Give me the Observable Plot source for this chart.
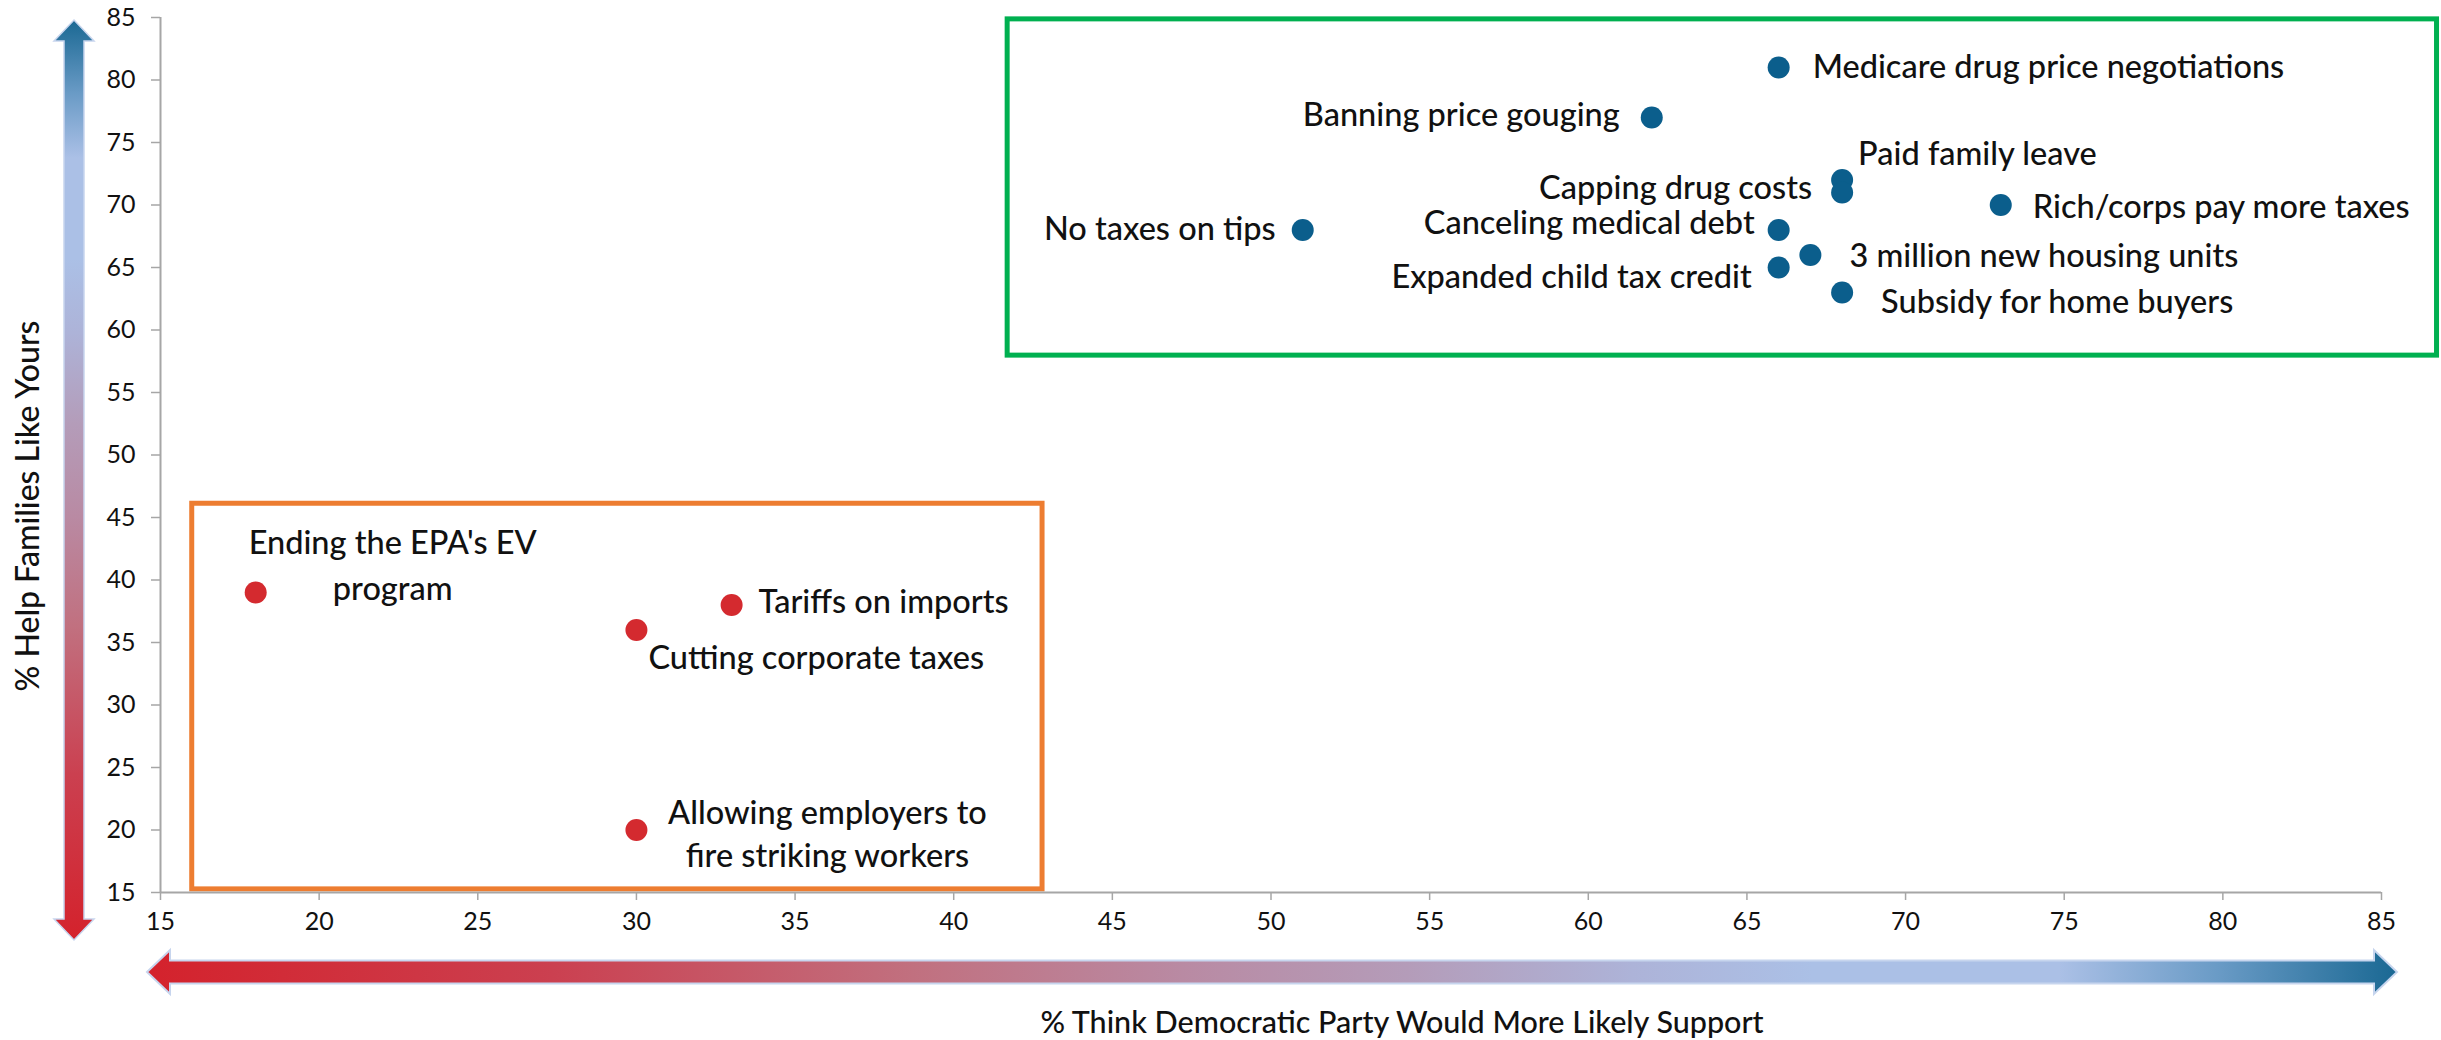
<!DOCTYPE html>
<html>
<head>
<meta charset="utf-8">
<script src="https://cdn.jsdelivr.net/npm/d3@7"></script>
<script src="https://cdn.jsdelivr.net/npm/@observablehq/plot@0.6"></script>
<style>
  html, body { margin: 0; padding: 0; background: #fff; }
  #chart svg { display: block; }
</style>
</head>
<body>
<div id="chart"></div>
<script>
// ---------- DATA ----------
const policies = [
  "Medicare drug price negotiations",
  "Banning price gouging",
  "Paid family leave",
  "Capping drug costs",
  "Rich/corps pay more taxes",
  "No taxes on tips",
  "Canceling medical debt",
  "3 million new housing units",
  "Expanded child tax credit",
  "Subsidy for home buyers",
  "Ending the EPA's EV\nprogram",
  "Tariffs on imports",
  "Cutting corporate taxes",
  "Allowing employers to\nfire striking workers"
];
const democraticSupport = [66, 62, 68, 68, 73, 51, 66, 67, 66, 68, 18, 33, 30, 30];
const helpFamilies      = [81, 77, 72, 71, 70, 68, 68, 66, 65, 63, 39, 38, 36, 20];
const party = ["Dem","Dem","Dem","Dem","Dem","Dem","Dem","Dem","Dem","Dem","Rep","Rep","Rep","Rep"];

const xTicks = [15, 20, 25, 30, 35, 40, 45, 50, 55, 60, 65, 70, 75, 80, 85];
const yTicks = [15, 20, 25, 30, 35, 40, 45, 50, 55, 60, 65, 70, 75, 80, 85];

const xTitle = "% Think Democratic Party Would More Likely Support";
const yTitle = "% Help Families Like Yours";

// highlight boxes (data units)
const boxNames = ["Dem", "Rep"];
const boxX1 = [41.7, 16.0];
const boxX2 = [86.75, 42.8];
const boxY1 = [57.95, 15.25];
const boxY2 = [84.85, 46.1];

// ---------- LAYOUT / STYLE ----------
const W = 2441, H = 1040;
const mL = 160, mR = 60, mT = 17, mB = 148;
const partyColors = {Dem: "#0b5e8c", Rep: "#d42a2f"};
const boxColors = {Dem: "#00b050", Rep: "#ed7d31"};
const FONT = "Lato, 'Open Sans', sans-serif";

// label placement: [textAnchor, dx, dy, lineHeight(px)]
const labelLayout = {
  "Medicare drug price negotiations": ["start", 34, 0],
  "Banning price gouging": ["end", -32, -2],
  "Paid family leave": ["start", 16, -25],
  "Capping drug costs": ["end", -30, -4],
  "Rich/corps pay more taxes": ["start", 32, 3],
  "No taxes on tips": ["end", -27, 0],
  "Canceling medical debt": ["end", -24, -6],
  "3 million new housing units": ["start", 39, 2],
  "Expanded child tax credit": ["end", -27, 10],
  "Subsidy for home buyers": ["start", 39, 10],
  "Ending the EPA's EV\nprogram": ["middle", 137, -30, 46],
  "Tariffs on imports": ["start", 27, -2],
  "Cutting corporate taxes": ["start", 12, 29],
  "Allowing employers to\nfire striking workers": ["middle", 191, 2, 43]
};
const labelSize = 32.5;

const data = policies.map((name, i) => ({
  name, x: democraticSupport[i], y: helpFamilies[i], party: party[i]
}));
const boxes = boxNames.map((name, i) => ({name, x1: boxX1[i], x2: boxX2[i], y1: boxY1[i], y2: boxY2[i]}));

// gradient stops (red -> blue)
const gradStops = [
  [0, "#d4222c"], [0.18, "#cb4050"], [0.34, "#c1707f"], [0.46, "#b98aa3"],
  [0.56, "#b49cb9"], [0.66, "#adb3d8"], [0.74, "#abc0e6"], [0.85, "#abc0e6"],
  [0.92, "#6a9bc6"], [1, "#1a6893"]
];

function arrowsMark() {
  const g = d3.create("svg:g");
  const defs = g.append("defs");
  const gx = defs.append("linearGradient").attr("id", "gradX")
    .attr("x1", 0).attr("y1", 0).attr("x2", 1).attr("y2", 0);
  const gy = defs.append("linearGradient").attr("id", "gradY")
    .attr("x1", 0).attr("y1", 1).attr("x2", 0).attr("y2", 0);
  for (const [o, c] of gradStops) {
    gx.append("stop").attr("offset", o).attr("stop-color", c);
    gy.append("stop").attr("offset", o).attr("stop-color", c);
  }
  // horizontal arrow
  const xl = mL - 13, xr = W - mR + 16, yc = H - mB + 80;
  const hl = 23, hh = 22, sh = 11.5;
  const px = [
    [xl, yc], [xl + hl, yc - hh], [xl + hl, yc - sh], [xr - hl, yc - sh], [xr - hl, yc - hh],
    [xr, yc], [xr - hl, yc + hh], [xr - hl, yc + sh], [xl + hl, yc + sh], [xl + hl, yc + hh]
  ];
  g.append("path").attr("d", "M" + px.map(p => p.join(",")).join("L") + "Z")
    .attr("fill", "url(#gradX)").attr("stroke", "#c7d5ee").attr("stroke-width", 2);
  // vertical arrow
  const xc = mL - 86, yt = mT + 3, yb = H - mB + 48;
  const vl = 21, vw = 20, sw = 10;
  const py = [
    [xc, yt], [xc + vw, yt + vl], [xc + sw, yt + vl], [xc + sw, yb - vl], [xc + vw, yb - vl],
    [xc, yb], [xc - vw, yb - vl], [xc - sw, yb - vl], [xc - sw, yt + vl], [xc - vw, yt + vl]
  ];
  g.append("path").attr("d", "M" + py.map(p => p.join(",")).join("L") + "Z")
    .attr("fill", "url(#gradY)").attr("stroke", "#c7d5ee").attr("stroke-width", 1.5);
  return g.node();
}

const labelMarks = data.map(d => {
  const [anchor, dx, dy, lh] = labelLayout[d.name];
  return Plot.text([d], {
    x: "x", y: "y", text: "name",
    textAnchor: anchor, dx, dy,
    lineAnchor: "middle",
    lineHeight: lh ? lh / labelSize : 1,
    fontSize: labelSize, fontWeight: 500, fill: "#111"
  });
});

const boxMarks = boxes.map(b => Plot.rect([b], {
  x1: "x1", x2: "x2", y1: "y1", y2: "y2",
  fill: "none", stroke: boxColors[b.name], strokeWidth: 5
}));

const chart = Plot.plot({
  width: W, height: H,
  marginLeft: mL, marginRight: mR, marginTop: mT, marginBottom: mB,
  style: {fontFamily: FONT, fontSize: "24px", background: "#fff", overflow: "visible", color: "#111"},
  x: {domain: [15, 85]},
  y: {domain: [15, 85]},
  color: {domain: ["Dem", "Rep"], range: [partyColors.Dem, partyColors.Rep]},
  marks: [
    arrowsMark,
    ...boxMarks,
    Plot.ruleY([15], {stroke: "#a6a6a6", strokeWidth: 2}),
    Plot.ruleX([15], {stroke: "#a6a6a6", strokeWidth: 2}),
    Plot.axisX(xTicks, {tickSize: 8, tickPadding: 12, fontSize: 25, stroke: "#a6a6a6", fill: "#111", label: null, strokeWidth: 1.5}),
    Plot.axisY(yTicks, {tickSize: 9, tickPadding: 16, fontSize: 25, stroke: "#a6a6a6", fill: "#111", label: null, strokeWidth: 1.5}),
    Plot.dot(data, {x: "x", y: "y", r: 11, fill: "party", stroke: "none"}),
    ...labelMarks,
    Plot.text([xTitle], {text: d => d, frameAnchor: "bottom", textAnchor: "middle", dx: 131, dy: 131, fontSize: 30.5, fontWeight: 500, fill: "#111", lineAnchor: "middle"}),
    Plot.text([yTitle], {text: d => d, frameAnchor: "left", textAnchor: "middle", dx: -132, dy: 51, rotate: -90, fontSize: 32, fontWeight: 500, fill: "#111", lineAnchor: "middle"})
  ]
});
document.getElementById("chart").appendChild(chart);
</script>
</body>
</html>
